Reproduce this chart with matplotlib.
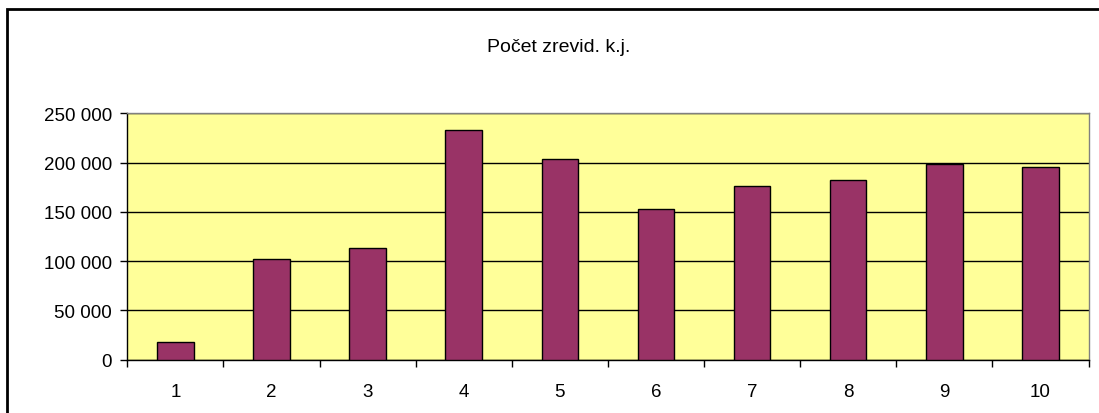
import numpy as np
import matplotlib.pyplot as plt
from matplotlib.patches import Rectangle
from matplotlib.ticker import FuncFormatter

# data
categories = [1, 2, 3, 4, 5, 6, 7, 8, 9, 10]
values = [17600, 101900, 113300, 232700, 203300, 152600, 175900, 182300, 198600, 195200]
title = "Počet zrevid. k.j."

plt.rcParams['font.family'] = ['Liberation Sans', 'DejaVu Sans']

W, H = 1099, 414
fig = plt.figure(figsize=(W / 100, H / 100), dpi=100)
fig.patch.set_facecolor('white')

# plot area in pixel coords
left, right, top, bottom = 127.3, 1088.5, 114.3, 360.7
ax = fig.add_axes([left / W, 1 - bottom / H, (right - left) / W, (bottom - top) / H])
ax.set_facecolor('#FFFF99')

x = np.arange(1, len(categories) + 1)
ax.bar(x, values, width=0.38, color='#993366', edgecolor='black', linewidth=1, zorder=3)

ax.set_xlim(0.5, len(categories) + 0.5)
ax.set_ylim(0, 250000)
ax.set_yticks(np.arange(0, 250001, 50000))
ax.yaxis.set_major_formatter(FuncFormatter(lambda v, p: f"{int(v):,}".replace(",", " ")))
ax.yaxis.grid(True, color='black', linewidth=1, zorder=1)

ax.set_xticks(x)
ax.set_xticklabels([str(c) for c in categories])
ax.set_xticks(np.arange(0.5, len(categories) + 1, 1), minor=True)
ax.tick_params(axis='x', which='major', length=0, pad=17, labelsize=13.5)
ax.tick_params(axis='x', which='minor', length=5, width=1, color='black')
ax.tick_params(axis='y', length=5, width=1, color='black', labelsize=13.5, pad=6)

for s in ['top', 'right']:
    ax.spines[s].set_color('#808080')
    ax.spines[s].set_linewidth(1)
for s in ['left', 'bottom']:
    ax.spines[s].set_color('black')
    ax.spines[s].set_linewidth(1)

fig.text(559 / W, 1 - 47 / H, title, ha='center', va='center', fontsize=14)

# outer chart frame (cut off on the right and bottom)
fig.patches.append(Rectangle((7 / W, -0.1), 1.2, 1 - 9.5 / H + 0.1, transform=fig.transFigure,
                             fill=False, edgecolor='black', linewidth=2))

fig.savefig('out.png', dpi=100)
